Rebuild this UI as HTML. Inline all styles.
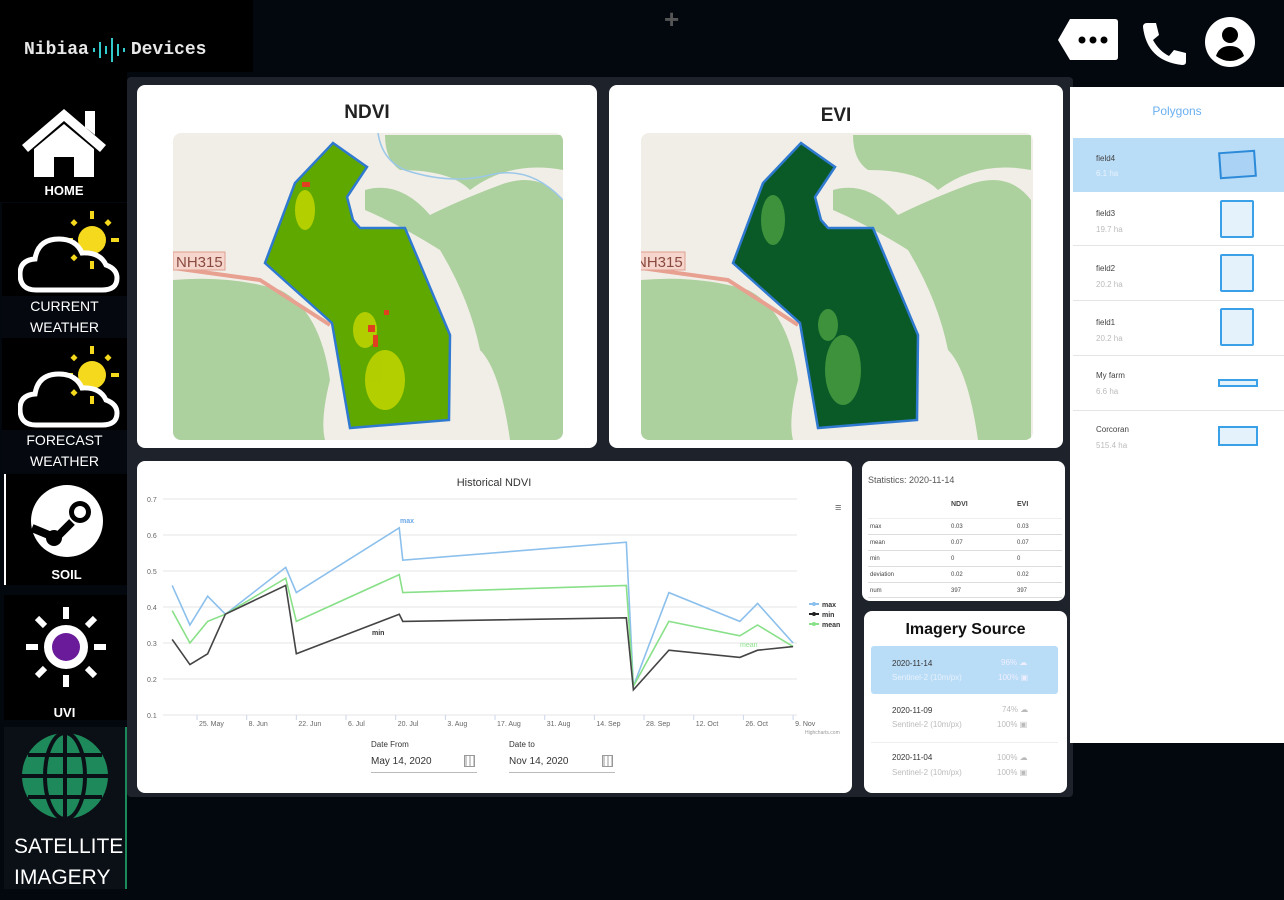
<!DOCTYPE html>
<html><head><meta charset="utf-8">
<style>
*{box-sizing:border-box;margin:0;padding:0}
body{width:1284px;height:900px;background:#03080f;position:relative;overflow:hidden;font-family:"Liberation Sans",sans-serif}
.abs{position:absolute}
.card{position:absolute;background:#fff;border-radius:8px}
.side{position:absolute;background:#000;color:#fff;text-align:center}
.lbl{position:absolute;left:0;width:128px;text-align:center;color:#fff;font-size:14px;line-height:21px}
</style></head><body>
<div class="abs" style="left:0;top:0;width:253px;height:72px;background:#000"></div>
<div class="abs" style="left:24px;top:37px;font-family:'Liberation Mono',monospace;font-size:18px;font-weight:bold;color:#e8e8e8;display:flex;align-items:center">Nibiaa<svg width="40" height="26" style="margin:0 1px"><g stroke="#3cc" stroke-width="2"><line x1="4" y1="11" x2="4" y2="15"/><line x1="10" y1="5" x2="10" y2="21"/><line x1="16" y1="9" x2="16" y2="17"/><line x1="22" y1="1" x2="22" y2="25"/><line x1="28" y1="7" x2="28" y2="19"/><line x1="34" y1="11" x2="34" y2="15"/></g></svg>Devices</div>
<div class="abs" style="left:664px;top:4px;color:#555;font-size:26px;font-weight:bold">+</div>
<svg class="abs" style="left:1055px;top:15px" width="210" height="55">
<g><path d="M15 4 H60 Q63 4 63 7 V42 Q63 45 60 45 H15 L3 25 Z" fill="#fff"/><circle cx="27" cy="25" r="3.5" fill="#000"/><circle cx="38" cy="25" r="3.5" fill="#000"/><circle cx="49" cy="25" r="3.5" fill="#000"/></g>
<path d="M92 8 L101 8 L104 20 L98 25 Q104 36 114 41 L119 35 L131 38 L131 47 Q131 50 127 50 Q92 46 88 12 Q88 8 92 8Z" fill="#fff"/>
<g><circle cx="175" cy="27" r="25" fill="#fff"/><circle cx="175" cy="20" r="8" fill="#000"/><path d="M161 41 Q164 31 175 31 Q186 31 189 41 Q182 46 175 46 Q168 46 161 41Z" fill="#000"/></g>
</svg>
<div class="abs" style="left:127px;top:77px;width:946px;height:720px;background:#1e232b;border-radius:4px"></div>

<!-- sidebar -->
<div class="side" style="left:0;top:72px;width:127px;height:130px">
<svg class="abs" style="left:20px;top:33px" width="88" height="76"><path d="M44 4 L86 40 L80 47 L44 16 L8 47 L2 40 Z M65 6 H75 V30 L65 22Z" fill="#fff"/><path d="M14 44 L44 19 L74 44 V72 H54 V52 H34 V72 H14Z" fill="#fff"/></svg>
<div class="lbl" style="top:108px;font-weight:bold;font-size:13px">HOME</div></div>
<div class="side" style="left:2px;top:203px;width:125px;height:130px;background:#000">
<svg class="abs" style="left:16px;top:3px" width="104" height="88"><g fill="#f5d91c"><circle cx="74" cy="34" r="14"/><rect x="72" y="5" width="4" height="8"/><rect x="72" y="55" width="4" height="8"/><rect x="47" y="32" width="8" height="4"/><rect x="93" y="32" width="8" height="4"/><rect x="54" y="14" width="5" height="5" transform="rotate(45 56 16)"/><rect x="88" y="14" width="5" height="5" transform="rotate(45 90 16)"/><rect x="54" y="49" width="5" height="5" transform="rotate(45 56 51)"/></g><path d="M18 84 Q2 84 2 68 Q2 54 17 53 Q20 33 41 33 Q58 33 64 47 Q82 46 88 59 Q99 63 99 72 Q99 84 84 84Z" fill="none" stroke="#fff" stroke-width="5"/></svg>
<div class="lbl" style="top:93px;background:#05090f;width:125px">CURRENT<br>WEATHER</div></div>
<div class="side" style="left:2px;top:338px;width:125px;height:132px">
<svg class="abs" style="left:16px;top:3px" width="104" height="88"><g fill="#f5d91c"><circle cx="74" cy="34" r="14"/><rect x="72" y="5" width="4" height="8"/><rect x="72" y="55" width="4" height="8"/><rect x="47" y="32" width="8" height="4"/><rect x="93" y="32" width="8" height="4"/><rect x="54" y="14" width="5" height="5" transform="rotate(45 56 16)"/><rect x="88" y="14" width="5" height="5" transform="rotate(45 90 16)"/><rect x="54" y="49" width="5" height="5" transform="rotate(45 56 51)"/></g><path d="M18 84 Q2 84 2 68 Q2 54 17 53 Q20 33 41 33 Q58 33 64 47 Q82 46 88 59 Q99 63 99 72 Q99 84 84 84Z" fill="none" stroke="#fff" stroke-width="5"/></svg>
<div class="lbl" style="top:92px;background:#05090f;width:125px">FORECAST<br>WEATHER</div></div>
<div class="side" style="left:4px;top:474px;width:123px;height:111px;border-left:2px solid #fff">
<svg class="abs" style="left:24px;top:10px" width="74" height="74"><circle cx="37" cy="37" r="36" fill="#fff"/><circle cx="50" cy="28" r="11" fill="#000"/><circle cx="50" cy="28" r="6" fill="#fff"/><path d="M2 44 L26 54 L42 38" stroke="#000" stroke-width="8" fill="none"/><circle cx="24" cy="54" r="8" fill="#000"/></svg>
<div class="lbl" style="top:90px;font-weight:bold;font-size:13px;width:121px">SOIL</div></div>
<div class="side" style="left:4px;top:595px;width:123px;height:125px">
<svg class="abs" style="left:20px;top:10px" width="84" height="84"><g stroke="#fff" stroke-width="6"><line x1="42" y1="2" x2="42" y2="14"/><line x1="42" y1="70" x2="42" y2="82"/><line x1="2" y1="42" x2="14" y2="42"/><line x1="70" y1="42" x2="82" y2="42"/><line x1="13" y1="13" x2="21" y2="21"/><line x1="63" y1="63" x2="71" y2="71"/><line x1="13" y1="71" x2="21" y2="63"/><line x1="63" y1="21" x2="71" y2="13"/></g><circle cx="42" cy="42" r="22" fill="#fff"/><circle cx="42" cy="42" r="14" fill="#6a1b9a"/></svg>
<div class="lbl" style="top:107px;font-weight:bold;font-size:13px;width:121px">UVI</div></div>
<div class="side" style="left:4px;top:727px;width:123px;height:162px;background:#0b1016;border-right:2px solid #1a8a5a">
<svg class="abs" style="left:16px;top:4px" width="90" height="90"><circle cx="45" cy="45" r="43" fill="#1e8a5c"/><g stroke="#0b1016" stroke-width="4" fill="none"><line x1="2" y1="45" x2="88" y2="45"/><line x1="45" y1="2" x2="45" y2="88"/><ellipse cx="45" cy="45" rx="20" ry="43"/><path d="M8 24 H82 M8 66 H82"/></g></svg>
<div class="lbl" style="top:104px;font-size:21px;line-height:31px;text-align:left;left:10px">SATELLITE<br>IMAGERY</div></div>

<!-- NDVI -->
<div class="card" style="left:137px;top:85px;width:460px;height:363px">
<div class="abs" style="left:0;width:460px;top:17px;text-align:center;font-size:19px;font-weight:bold;color:#222">NDVI</div></div>
<svg class="abs" style="left:173px;top:133px;border-radius:8px" width="390" height="307" viewBox="3 3 390 307">
<rect x="0" y="0" width="400" height="320" fill="#f1eee8"/>
<path d="M215 5 H393 V40 Q340 30 300 60 Q280 40 230 40 Q215 30 215 5Z" fill="#add19e"/>
<path d="M195 60 Q230 50 260 85 Q290 70 330 55 Q370 40 393 70 V310 H340 Q330 240 310 220 Q300 170 270 120 Q230 95 195 80Z" fill="#add19e"/>
<path d="M3 150 Q60 145 110 160 Q150 180 160 250 Q150 290 155 310 H3Z" fill="#add19e"/>
<path d="M3 138 L90 150 L160 195" stroke="#e8a090" stroke-width="4" fill="none"/>
<path d="M208 3 Q212 30 235 40 Q280 55 320 45 Q360 35 393 70" stroke="#9bc8e8" stroke-width="1.5" fill="none"/>
<rect x="3" y="122" width="52" height="18" fill="#f5d5cc" stroke="#e0a090"/><text x="6" y="137" font-size="15" fill="#8a4a40" font-family="Liberation Sans">NH315</text>
<path d="M163 13 L197 37 L177 67 L183 90 L190 98 L235 98 L280 205 L279 290 L180 298 L162 193 L95 133 L125 53 Z" fill="#5fa800" stroke="#2f7ad0" stroke-width="2.5"/>
<g fill="#c8d800" opacity="0.8"><ellipse cx="135" cy="80" rx="10" ry="20"/><ellipse cx="215" cy="250" rx="20" ry="30"/><ellipse cx="195" cy="200" rx="12" ry="18"/></g>
<g fill="#e04020"><rect x="198" y="195" width="7" height="7"/><rect x="203" y="205" width="5" height="12"/><rect x="214" y="180" width="5" height="5"/><rect x="132" y="52" width="8" height="5"/></g>
</svg>

<!-- EVI -->
<div class="card" style="left:609px;top:85px;width:454px;height:363px">
<div class="abs" style="left:0;width:454px;top:20px;text-align:center;font-size:19px;font-weight:bold;color:#222">EVI</div></div>
<svg class="abs" style="left:641px;top:133px;border-radius:8px" width="392" height="307" viewBox="3 3 392 307">
<rect x="0" y="0" width="400" height="320" fill="#f1eee8"/>
<path d="M215 5 H393 V40 Q340 30 300 60 Q280 40 230 40 Q215 30 215 5Z" fill="#add19e"/>
<path d="M195 60 Q230 50 260 85 Q290 70 330 55 Q370 40 393 70 V310 H340 Q330 240 310 220 Q300 170 270 120 Q230 95 195 80Z" fill="#add19e"/>
<path d="M3 150 Q60 145 110 160 Q150 180 160 250 Q150 290 155 310 H3Z" fill="#add19e"/>
<path d="M3 138 L90 150 L160 195" stroke="#e8a090" stroke-width="4" fill="none"/>
<rect x="-5" y="122" width="52" height="18" fill="#f5d5cc" stroke="#e0a090"/><text x="-2" y="137" font-size="15" fill="#8a4a40" font-family="Liberation Sans">NH315</text>
<path d="M163 13 L197 37 L177 67 L183 90 L190 98 L235 98 L280 205 L279 290 L180 298 L162 193 L95 133 L125 53 Z" fill="#0a5a28" stroke="#2f7ad0" stroke-width="2.5"/>
<g fill="#4aa040" opacity="0.8"><ellipse cx="135" cy="90" rx="12" ry="25"/><ellipse cx="205" cy="240" rx="18" ry="35"/><ellipse cx="190" cy="195" rx="10" ry="16"/></g>
</svg>

<!-- chart card -->
<div class="card" style="left:137px;top:461px;width:715px;height:332px"></div>
<svg class="abs" id="chart" style="left:137px;top:461px" width="715" height="332" font-family="Liberation Sans"></svg>
<div class="abs" style="left:371px;top:740px;font-size:8px;color:#333">Date From</div>
<div class="abs" style="left:371px;top:753px;width:106px;height:20px;border-bottom:1px solid #bbb;font-size:10px;color:#333;padding-top:3px">May 14, 2020<span style="position:absolute;right:2px;top:2px;width:11px;height:12px;border:1px solid #999;background:repeating-linear-gradient(90deg,#ccc 0 2px,#fff 2px 4px)"></span></div>
<div class="abs" style="left:509px;top:740px;font-size:8px;color:#333">Date to</div>
<div class="abs" style="left:509px;top:753px;width:106px;height:20px;border-bottom:1px solid #bbb;font-size:10px;color:#333;padding-top:3px">Nov 14, 2020<span style="position:absolute;right:2px;top:2px;width:11px;height:12px;border:1px solid #999;background:repeating-linear-gradient(90deg,#ccc 0 2px,#fff 2px 4px)"></span></div>

<!-- stats -->
<div class="card" style="left:862px;top:461px;width:203px;height:140px;font-size:6px;color:#444">
<div class="abs" style="left:6px;top:14px;font-size:9px;color:#555">Statistics: 2020-11-14</div>
<div class="abs" style="left:89px;top:40px;font-weight:bold;font-size:7px">NDVI</div><div class="abs" style="left:155px;top:40px;font-weight:bold;font-size:7px">EVI</div>
<div class="abs" style="left:6px;top:57px;width:194px;height:16px;border-top:1px solid #eee"><span class="abs" style="left:2px;top:5px">max</span><span class="abs" style="left:83px;top:5px">0.03</span><span class="abs" style="left:149px;top:5px">0.03</span></div>
<div class="abs" style="left:6px;top:73px;width:194px;height:16px;border-top:1px solid #ddd"><span class="abs" style="left:2px;top:5px">mean</span><span class="abs" style="left:83px;top:5px">0.07</span><span class="abs" style="left:149px;top:5px">0.07</span></div>
<div class="abs" style="left:6px;top:89px;width:194px;height:16px;border-top:1px solid #ddd"><span class="abs" style="left:2px;top:5px">min</span><span class="abs" style="left:83px;top:5px">0</span><span class="abs" style="left:149px;top:5px">0</span></div>
<div class="abs" style="left:6px;top:105px;width:194px;height:16px;border-top:1px solid #ddd"><span class="abs" style="left:2px;top:5px">deviation</span><span class="abs" style="left:83px;top:5px">0.02</span><span class="abs" style="left:149px;top:5px">0.02</span></div>
<div class="abs" style="left:6px;top:121px;width:194px;height:16px;border-top:1px solid #ddd;border-bottom:1px solid #ddd"><span class="abs" style="left:2px;top:5px">num</span><span class="abs" style="left:83px;top:5px">397</span><span class="abs" style="left:149px;top:5px">397</span></div>
</div>

<!-- imagery -->
<div class="card" style="left:864px;top:611px;width:203px;height:182px">
<div class="abs" style="left:0;width:203px;top:10px;text-align:center;font-size:16px;font-weight:bold;color:#111">Imagery Source</div>
<div class="abs" style="left:7px;top:35px;width:187px;height:48px;background:#b9dcf7;border-radius:3px"><span class="abs" style="left:21px;top:13px;font-size:8px;color:#333">2020-11-14</span><span class="abs" style="left:21px;top:27px;font-size:8px;color:#e8f2fc">Sentinel-2 (10m/px)</span><span class="abs" style="left:130px;top:12px;font-size:8px;color:#eef">96% ☁</span><span class="abs" style="left:127px;top:27px;font-size:8px;color:#eef">100% ▣</span></div>
<div class="abs" style="left:7px;top:84px;width:187px;height:48px;border-bottom:1px solid #eee"><span class="abs" style="left:21px;top:11px;font-size:8px;color:#333">2020-11-09</span><span class="abs" style="left:21px;top:25px;font-size:8px;color:#bbb">Sentinel-2 (10m/px)</span><span class="abs" style="left:131px;top:10px;font-size:8px;color:#bbb">74% ☁</span><span class="abs" style="left:126px;top:25px;font-size:8px;color:#bbb">100% ▣</span></div>
<div class="abs" style="left:7px;top:133px;width:187px;height:48px"><span class="abs" style="left:21px;top:9px;font-size:8px;color:#333">2020-11-04</span><span class="abs" style="left:21px;top:24px;font-size:8px;color:#bbb">Sentinel-2 (10m/px)</span><span class="abs" style="left:126px;top:9px;font-size:8px;color:#bbb">100% ☁</span><span class="abs" style="left:126px;top:24px;font-size:8px;color:#bbb">100% ▣</span></div>
</div>

<!-- polygons -->
<div class="abs" style="left:1070px;top:87px;width:214px;height:656px;background:#fff;font-size:8px">
<div class="abs" style="left:0;width:214px;top:17px;text-align:center;font-size:12px;color:#6ab0f0">Polygons</div>
<div class="abs" style="left:3px;top:51px;width:211px;height:54px;background:#b9dcf7"><span class="abs" style="left:23px;top:16px;color:#444">field4</span><span class="abs" style="left:23px;top:31px;color:#e8f2fc">6.1 ha</span><span class="abs" style="left:146px;top:13px;width:37px;height:27px;border:2px solid #2c8ad8;background:#a9d2f5;transform:rotate(-4deg)"></span></div>
<div class="abs" style="left:3px;top:105px;width:211px;height:54px;border-bottom:1px solid #e5e5e5"><span class="abs" style="left:23px;top:17px;color:#444">field3</span><span class="abs" style="left:23px;top:33px;color:#bbb">19.7 ha</span><span class="abs" style="left:147px;top:8px;width:34px;height:38px;border:2px solid #3aa0e8;background:#e4f2fc;border-radius:2px"></span></div>
<div class="abs" style="left:3px;top:160px;width:211px;height:54px;border-bottom:1px solid #e5e5e5"><span class="abs" style="left:23px;top:17px;color:#444">field2</span><span class="abs" style="left:23px;top:33px;color:#bbb">20.2 ha</span><span class="abs" style="left:147px;top:7px;width:34px;height:38px;border:2px solid #3aa0e8;background:#e4f2fc;border-radius:2px"></span></div>
<div class="abs" style="left:3px;top:215px;width:211px;height:54px;border-bottom:1px solid #e5e5e5"><span class="abs" style="left:23px;top:16px;color:#444">field1</span><span class="abs" style="left:23px;top:32px;color:#bbb">20.2 ha</span><span class="abs" style="left:147px;top:6px;width:34px;height:38px;border:2px solid #3aa0e8;background:#e4f2fc;border-radius:2px"></span></div>
<div class="abs" style="left:3px;top:270px;width:211px;height:54px;border-bottom:1px solid #e5e5e5"><span class="abs" style="left:23px;top:14px;color:#444">My farm</span><span class="abs" style="left:23px;top:30px;color:#bbb">6.6 ha</span><span class="abs" style="left:145px;top:22px;width:40px;height:8px;border:2px solid #3aa0e8;background:#e4f2fc"></span></div>
<div class="abs" style="left:3px;top:325px;width:211px;height:54px"><span class="abs" style="left:23px;top:13px;color:#444">Corcoran</span><span class="abs" style="left:23px;top:29px;color:#bbb">515.4 ha</span><span class="abs" style="left:145px;top:14px;width:40px;height:20px;border:2px solid #3aa0e8;background:#e4f2fc"></span></div>
</div>

<script>
const dates = ["2020-05-18","2020-05-23","2020-05-28","2020-06-02","2020-06-19","2020-06-22","2020-07-21","2020-07-22","2020-09-23","2020-09-25","2020-10-05","2020-10-25","2020-10-30","2020-11-09"];
const maxVals = [0.46,0.35,0.43,0.38,0.51,0.44,0.62,0.53,0.58,0.18,0.44,0.36,0.41,0.30];
const meanVals = [0.39,0.30,0.36,0.38,0.48,0.36,0.49,0.44,0.46,0.18,0.36,0.32,0.35,0.29];
const minVals = [0.31,0.24,0.27,0.38,0.46,0.27,0.38,0.36,0.37,0.17,0.28,0.26,0.28,0.29];
const yTicks = [0.1,0.2,0.3,0.4,0.5,0.6,0.7];
const xTickDates = ["2020-05-25","2020-06-08","2020-06-22","2020-07-06","2020-07-20","2020-08-03","2020-08-17","2020-08-31","2020-09-14","2020-09-28","2020-10-12","2020-10-26","2020-11-09"];
const xTickLabels = ["25. May","8. Jun","22. Jun","6. Jul","20. Jul","3. Aug","17. Aug","31. Aug","14. Sep","28. Sep","12. Oct","26. Oct","9. Nov"];

const svg = document.getElementById('chart');
const NS = 'http://www.w3.org/2000/svg';
const t0 = Date.parse("2020-05-25");
function xs(d){ return 60 + (Date.parse(d)-t0)/86400000*3.548; }
function ys(v){ return 38 + (0.7-v)/0.6*216; }
function mk(tag, attrs, text){
  const e = document.createElementNS(NS, tag);
  for (const k in attrs) e.setAttribute(k, attrs[k]);
  if (text !== undefined) e.textContent = text;
  svg.appendChild(e);
  return e;
}
let e = mk('text',{x:357,y:25,'text-anchor':'middle','font-size':11,fill:'#333'},'Historical NDVI');


yTicks.forEach(v=>{
  const g = mk('line',{x1:26,x2:660,y1:ys(v),y2:ys(v),stroke:'#e6e6e6','stroke-width':1});
  
  
  const t = mk('text',{x:10,y:ys(v)+3,'font-size':7,fill:'#666'},v.toFixed(1));
  
  
});
xTickDates.forEach((d,i)=>{
  const x = xs(d);
  const tk = mk('line',{x1:x,x2:x,y1:254,y2:259,stroke:'#ccd6eb'});
  
  
  const t = mk('text',{x:x+2,y:265,'font-size':7,fill:'#666'},xTickLabels[i]);
  
  
});
function series(vals, color, name){
  const p = mk('polyline',{points:vals.map((v,i)=>xs(dates[i])+','+ys(v)).join(' '),fill:'none',stroke:color,'stroke-width':1.6});
  
  
}
series(maxVals,'#8cc0ec','series-max');
series(meanVals,'#88e088','series-mean');
series(minVals,'#444','series-min');
const lab1 = mk('text',{x:263,y:62,'font-size':7,fill:'#6aa8e8','font-weight':'bold'},'max');


const lab2 = mk('text',{x:235,y:174,'font-size':7,fill:'#333','font-weight':'bold'},'min');


const lab3 = mk('text',{x:603,y:186,'font-size':7,fill:'#88e088'},'mean');


[['max','#8cc0ec',143],['min','#222',153],['mean','#88e088',163]].forEach(l=>{
  const ln = mk('line',{x1:672,x2:682,y1:l[2],y2:l[2],stroke:l[1],'stroke-width':2});
  
  
  mk('circle',{cx:677,cy:l[2],r:2,fill:l[1]});
  mk('text',{x:685,y:l[2]+3,'font-size':7,fill:'#333','font-weight':'bold'},l[0]);
});
const menu = mk('text',{x:698,y:50,'font-size':11,fill:'#666'},'≡');


const cr = mk('text',{x:668,y:273,'font-size':5,fill:'#999'},'Highcharts.com');


</script>
</body></html>
